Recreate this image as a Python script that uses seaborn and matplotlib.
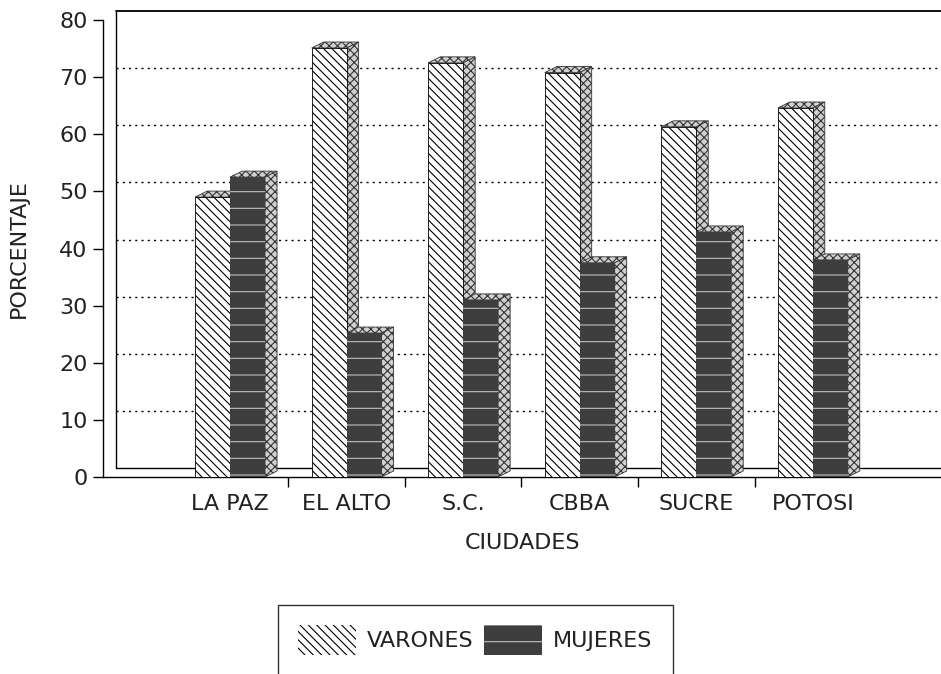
import pandas as pd
import matplotlib.pyplot as plt
import seaborn as sns
from matplotlib.patches import Polygon, Patch
from matplotlib import transforms

ciudades = ['LA PAZ', 'EL ALTO', 'S.C.', 'CBBA', 'SUCRE', 'POTOSI']
varones = [49.0, 75.1, 72.5, 70.8, 61.3, 64.6]
mujeres = [52.5, 25.2, 31.0, 37.5, 42.9, 38.0]
grupos = ['VARONES', 'MUJERES']

df = pd.DataFrame({
    'ciudad': ciudades * 2,
    'sexo': [grupos[0]] * len(ciudades) + [grupos[1]] * len(ciudades),
    'porcentaje': varones + mujeres,
})

sns.set_style('white')
plt.rcParams['font.family'] = ['DejaVu Sans']
plt.rcParams['hatch.linewidth'] = 0.8

fig = plt.figure(figsize=(9.41, 6.74), dpi=100)
ax = fig.add_axes([0.1095, 0.2923, 0.8905, 0.678])

sns.barplot(data=df, x='ciudad', y='porcentaje', hue='sexo', order=ciudades,
            hue_order=grupos, palette=['white', '#3e3e3e'], width=0.6,
            saturation=1, legend=False, ax=ax, zorder=3)

ax.set_xlim(-1.09, 6.10)
ax.set_ylim(0, 80)

# depth of the 3d bars (pixels -> data units)
DX, DY = 12, 6
inv = ax.transData.inverted()
p0 = inv.transform(ax.transData.transform((0, 0)))
p1 = inv.transform(ax.transData.transform((0, 0)) + [DX, DY])
ddx, ddy = p1 - p0

MUJ = '#3e3e3e'
n = len(ciudades)
for k, bar in enumerate(list(ax.patches)):
    x0, w, h = bar.get_x(), bar.get_width(), bar.get_height()
    x1 = x0 + w
    if k < n:
        bar.set_facecolor('white')
        bar.set_edgecolor('black')
        bar.set_hatch('\\\\\\\\')
        bar.set_linewidth(0.6)
        z = 3
    else:
        bar.set_facecolor(MUJ)
        bar.set_edgecolor('#c0c0c0')
        bar.set_hatch('-')
        bar.set_linewidth(0)
        z = 5
    bar.set_zorder(z + 0.5)
    top = Polygon([(x0, h), (x1, h), (x1 + ddx, h + ddy), (x0 + ddx, h + ddy)],
                  closed=True, facecolor='#d0d0d0', edgecolor='#333333',
                  hatch='xxxx', linewidth=0.6, zorder=z)
    side = Polygon([(x1, 0), (x1, h), (x1 + ddx, h + ddy), (x1 + ddx, ddy)],
                   closed=True, facecolor='#d0d0d0', edgecolor='#333333',
                   hatch='xxxx', linewidth=0.6, zorder=z)
    ax.add_patch(top)
    ax.add_patch(side)

# back wall with dotted grid
off = transforms.ScaledTranslation(13 / 100, 9 / 100, fig.dpi_scale_trans)
ytr = ax.get_yaxis_transform() + off
for v in range(10, 80, 10):
    ax.plot([0, 1], [v, v], transform=ytr, color='black', ls=(0, (1.5, 3)),
            lw=1, clip_on=False, zorder=1)
ax.plot([0, 1], [80, 80], transform=ytr, color='black', lw=1.3, clip_on=False, zorder=1)
ax.plot([0, 1], [0, 0], transform=ytr, color='black', lw=1, clip_on=False, zorder=1)
ax.plot([0, 0], [0, 80], transform=ytr, color='black', lw=1, clip_on=False, zorder=1)

for s in ['top', 'right']:
    ax.spines[s].set_visible(False)
for s in ['left', 'bottom']:
    ax.spines[s].set_color('black')
    ax.spines[s].set_linewidth(1)

ax.set_yticks(range(0, 81, 10))
ax.tick_params(axis='y', length=7, width=1, color='black', direction='out',
               labelsize=16, labelcolor='#222222', left=True, pad=4)
ax.set_xticks(range(n))
ax.set_xticklabels(ciudades)
ax.set_xticks([i + 0.5 for i in range(n - 1)], minor=True)
ax.tick_params(axis='x', which='major', length=0, labelsize=16,
               labelcolor='#222222', pad=12)
ax.tick_params(axis='x', which='minor', length=7, width=1, color='black',
               bottom=True, direction='out')

ax.set_xlabel('CIUDADES', fontsize=16, color='#222222', labelpad=14)
ax.set_ylabel('PORCENTAJE', fontsize=16, color='#222222', labelpad=22)

handles = [Patch(facecolor='white', edgecolor='black', hatch='\\\\\\\\', linewidth=0),
           Patch(facecolor=MUJ, edgecolor='#c0c0c0', hatch='-', linewidth=0)]
leg = fig.legend(handles, grupos, loc='upper center', bbox_to_anchor=(0.505, 0.1024),
                 ncol=2, fontsize=16, frameon=True, fancybox=False,
                 edgecolor='black', handlelength=2.6, handleheight=1.7,
                 borderpad=0.9, borderaxespad=0, columnspacing=0.5,
                 handletextpad=0.5)
leg.get_frame().set_linewidth(1)
for t in leg.get_texts():
    t.set_color('#222222')

plt.savefig('out.png', dpi=100)
